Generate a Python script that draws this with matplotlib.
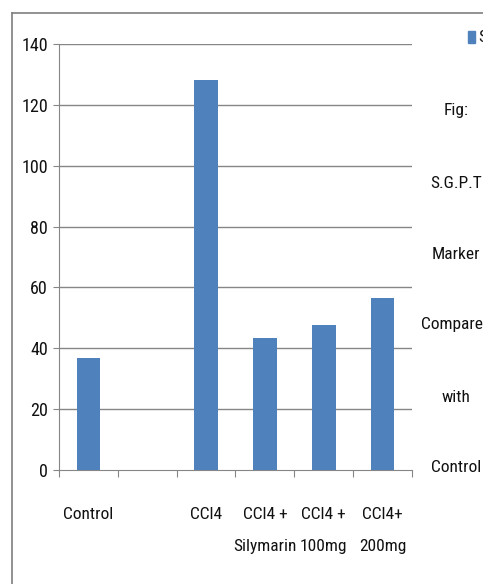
import matplotlib
matplotlib.use("Agg")
import matplotlib.pyplot as plt
from matplotlib import font_manager
from matplotlib.lines import Line2D
from matplotlib.patches import Rectangle

categories = ["Control", "", "CCl4", "CCl4 +\nSilymarin", "CCl4 +\n100mg", "CCl4+\n200mg"]
sgpt_values = [36.8, None, 128.1, 43.4, 47.6, 56.5]
y_ticks = [0, 20, 40, 60, 80, 100, 120, 140]
side_caption = ["Fig:", "S.G.P.T", "Marker", "Compared", "with", "Control"]
legend_label = "Series1"

# pick a narrow sans face if one is installed
names = {f.name for f in font_manager.fontManager.ttflist}
family = "DejaVu Sans"
for cand in ["Liberation Sans Narrow", "DejaVu Sans Condensed", "Roboto Condensed", "Open Sans Condensed"]:
    if cand in names:
        family = cand
        break
plt.rcParams["font.family"] = [family, "DejaVu Sans"]

FS = 12.5
TXT = "#111111"
W, H = 483, 584
fig = plt.figure(figsize=(W / 100, H / 100), dpi=100)
fig.patch.set_facecolor("white")

ax = fig.add_axes([59 / W, 1 - 470 / H, (412 - 59) / W, (470 - 44) / H])
grid_c = "#868686"
bar_c = "#4F81BD"

xs = list(range(len(categories)))
for x, v in zip(xs, sgpt_values):
    if v is not None:
        ax.bar(x, v, width=0.4, color=bar_c, zorder=3)

ax.set_xlim(-0.5, len(categories) - 0.5)
ax.set_ylim(0, 140)
ax.set_yticks(y_ticks)
ax.set_yticklabels([str(t) for t in y_ticks], fontsize=FS + 0.5, color=TXT)
for t in y_ticks[1:]:
    ax.axhline(t, color=grid_c, lw=1, zorder=1)

for s in ["top", "right"]:
    ax.spines[s].set_visible(False)
ax.spines["left"].set_color(grid_c)
ax.spines["bottom"].set_color(grid_c)
ax.tick_params(axis="y", length=4, color=grid_c, pad=4)

# category separators on the x axis
ax.set_xticks([x - 0.5 for x in xs] + [len(categories) - 0.5])
ax.set_xticklabels([])
ax.tick_params(axis="x", length=5, color=grid_c, direction="out")

# category names, one text per line, placed below the axis in points
for x, lab in zip(xs, categories):
    for i, line in enumerate(lab.split("\n")):
        ax.annotate(line, xy=(x, 0), xycoords="data",
                    xytext=(0, -32 - 23 * i), textcoords="offset points",
                    ha="center", va="center", fontsize=FS, color=TXT,
                    annotation_clip=False)

# figure frame
fig.add_artist(Line2D([12 / W, 1.0], [1 - 13 / H, 1 - 13 / H], color="#7f7f7f", lw=1.2))
fig.add_artist(Line2D([12 / W, 12 / W], [0, 1 - 13 / H], color="#7f7f7f", lw=1.2))

# legend entry
fig.add_artist(Rectangle((468 / W, 1 - 43 / H), 7 / W, 12 / H, color=bar_c))
fig.text(478 / W, 1 - 37 / H, legend_label, fontsize=FS, va="center", ha="left", color=TXT)

# caption down the right side
cap_y = [110, 183, 254, 325, 397, 467]
for yy, s in zip(cap_y, side_caption):
    fig.text(456 / W, 1 - yy / H, s, fontsize=FS, ha="center", va="center", color=TXT)

fig.savefig("out.png", dpi=100)
